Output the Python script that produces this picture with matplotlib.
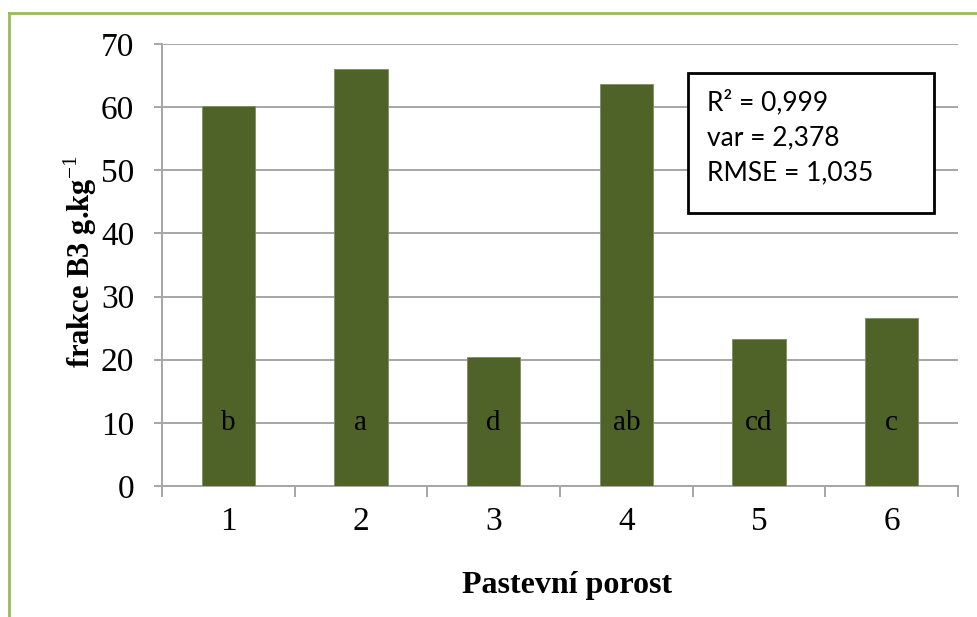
import matplotlib.pyplot as plt
from matplotlib.lines import Line2D
from matplotlib.patches import Rectangle
import numpy as np

categories = ['1', '2', '3', '4', '5', '6']
values = [60.2, 66.0, 20.5, 63.7, 23.3, 26.6]
groups = ['b', 'a', 'd', 'ab', 'cd', 'c']
stats = ['R² = 0,999', 'var = 2,378', 'RMSE = 1,035']

BAR = '#4F6228'
GRID = '#A6A6A6'
SERIF = ['Liberation Serif', 'DejaVu Serif']

plt.rcParams['mathtext.fontset'] = 'custom'
plt.rcParams['mathtext.rm'] = 'Liberation Serif'
plt.rcParams['mathtext.bf'] = 'Liberation Serif:bold'

W, H = 978, 617
fig = plt.figure(figsize=(W / 100, H / 100), dpi=100)
ax = fig.add_axes([162 / W, 1 - 486 / H, (958 - 162) / W, (486 - 44) / H])

x = np.arange(len(categories))
ax.bar(x, values, width=0.4, color=BAR, edgecolor='#7F8F60', linewidth=0.6, zorder=3)
for xi, g in zip(x, groups):
    ax.text(xi, 10, g, ha='center', va='center', fontsize=21,
            family=SERIF, color='black', zorder=4)

ax.set_xlim(-0.5, len(categories) - 0.5)
ax.set_ylim(0, 70)
ax.set_yticks(np.arange(0, 71, 10))
ax.yaxis.grid(True, color=GRID, linewidth=1.4, zorder=0)

# boundary ticks without labels, category labels on minor ticks
ax.set_xticks(np.arange(len(categories) + 1) - 0.5)
ax.set_xticklabels([])
ax.set_xticks(x, categories, minor=True)
ax.tick_params(axis='x', which='major', length=8, width=1.4, color=GRID)
ax.tick_params(axis='x', which='minor', length=0, pad=15)
ax.tick_params(axis='y', length=6, width=1.4, color=GRID, pad=14)
for lab in ax.get_xticklabels(minor=True) + ax.get_yticklabels():
    lab.set_fontfamily(SERIF)
    lab.set_fontsize(24)

for side in ['top', 'right']:
    ax.spines[side].set_visible(False)
for side in ['left', 'bottom']:
    ax.spines[side].set_color(GRID)
    ax.spines[side].set_linewidth(1.4)

fig.text(567 / W, 1 - 585 / H, 'Pastevní porost', ha='center', va='center',
         fontsize=23, fontweight='bold', family=SERIF)
fig.text(80 / W, 1 - 262 / H, 'frakce B3 g.kg$^{-1}$', ha='center', va='center',
         rotation=90, fontsize=22, fontweight='bold', family=SERIF)

# statistics box
fig.patches.append(Rectangle((688 / W, 1 - 213 / H), 246 / W, 140 / H,
                             transform=fig.transFigure, facecolor='white',
                             edgecolor='black', linewidth=2, zorder=5))
for i, s in enumerate(stats):
    fig.text(707 / W, 1 - (102 + 35.5 * i) / H, s, ha='left', va='center',
             fontsize=19, family=['Lato', 'DejaVu Sans'], zorder=6)

# outer frame
fig.add_artist(Line2D([9 / W, 1], [1 - 13 / H, 1 - 13 / H], color='#9BBB59', linewidth=2))
fig.add_artist(Line2D([9 / W, 9 / W], [0, 1 - 13 / H], color='#9BBB59', linewidth=2))

fig.savefig('out.png', dpi=100)
